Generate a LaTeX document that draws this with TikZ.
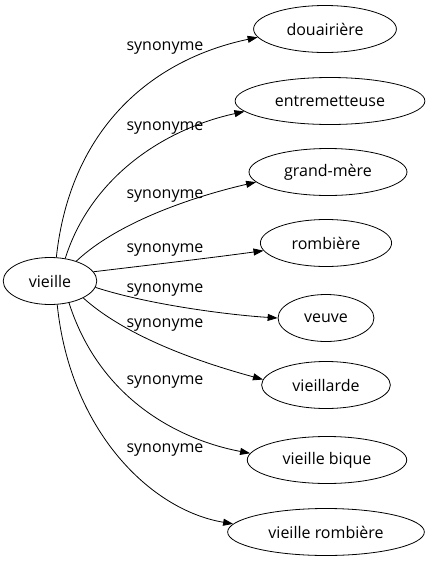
\documentclass[tikz,border=0pt]{standalone}
\usepackage{fontspec}
\setmainfont{Open Sans}
\usepackage{tikz}
\usetikzlibrary{shapes.geometric}
\usetikzlibrary{arrows.meta}
\tikzstyle{mot}=[draw, line width=0.8pt, ellipse, inner xsep=12pt, inner ysep=2pt, minimum height=47pt, font=\fontsize{16}{18}\selectfont]
\tikzstyle{syn}=[-{Triangle[length=10pt,width=7pt]}, line width=0.8pt]
\tikzstyle{lab}=[font=\fontsize{16}{18}\selectfont, inner sep=0pt]

\begin{document}
\begin{tikzpicture}[x=1pt,y=-1pt]
\useasboundingbox (0,0) rectangle (432,563);
\node[mot] (v) at (50,281) {vieille};
\node[mot] (d) at (325,29) {douairière};
\node[mot] (e) at (330,101) {entremetteuse};
\node[mot] (g) at (328,172) {grand-mère};
\node[mot] (r) at (326,243) {rombière};
\node[mot] (w) at (326,318) {veuve};
\node[mot] (va) at (326,385) {vieillarde};
\node[mot] (vb) at (327,460) {vieille bique};
\node[mot] (vr) at (326,532) {vieille rombière};
\draw[syn] (v.75) .. controls (70,130) and (150,60) .. (d.187);
\draw[syn] (v.56) .. controls (90,180) and (160,130) .. (e.187);
\draw[syn] (v.37) .. controls (120,220) and (200,195) .. (g.188);
\draw[syn] (v.12) .. controls (150,265) and (210,258) .. (r.187);
\draw[syn] (v.-8) .. controls (150,305) and (230,315) .. (w.180);
\draw[syn] (v.-27) .. controls (130,340) and (210,365) .. (va.175);
\draw[syn] (v.-49) .. controls (100,400) and (180,440) .. (vb.175);
\draw[syn] (v.-73) .. controls (70,430) and (150,510) .. (vr.175);
\node[lab] (l1) at (165,48) {synonyme};
\node[lab] (l2) at (165,128) {synonyme};
\node[lab] (l3) at (165,196) {synonyme};
\node[lab] (l4) at (165,250) {synonyme};
\node[lab] (l5) at (165,290) {synonyme};
\node[lab] (l6) at (165,325) {synonyme};
\node[lab] (l7) at (165,382) {synonyme};
\node[lab] (l8) at (165,450) {synonyme};
\end{tikzpicture}
\end{document}
